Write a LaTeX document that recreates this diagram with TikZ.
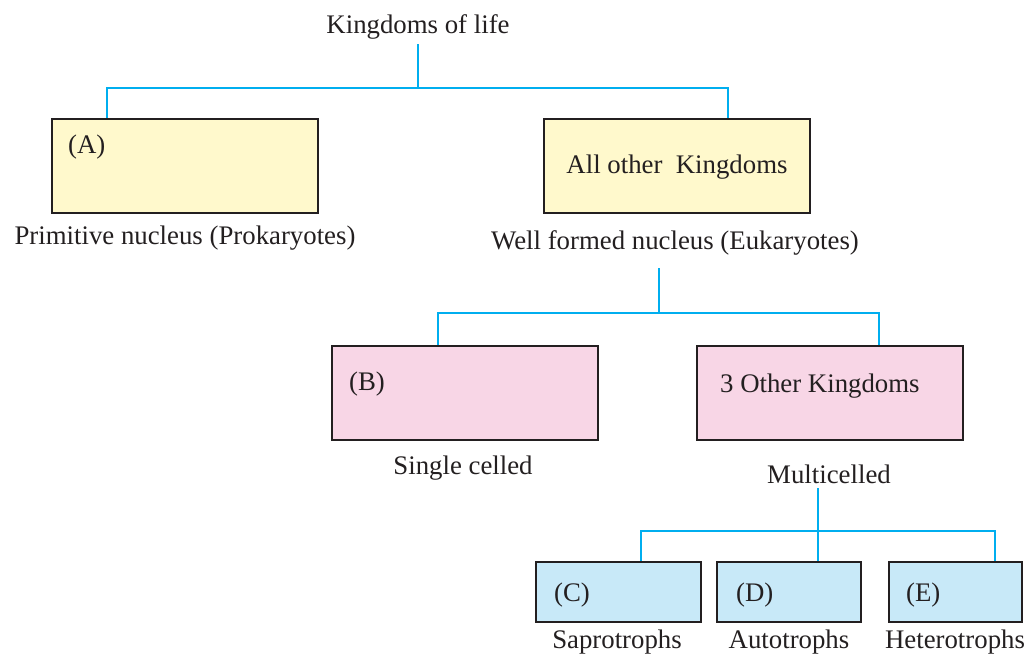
\documentclass[tikz,border=0pt]{standalone}
\usepackage{fontspec}
\setmainfont{Liberation Serif}
\usetikzlibrary{calc}
\definecolor{inkgray}{HTML}{231F20}
\definecolor{linkblue}{HTML}{00AEEF}
\definecolor{boxyellow}{HTML}{FFF9CC}
\definecolor{boxpink}{HTML}{F8D6E6}
\definecolor{boxblue}{HTML}{C8E9F8}
\tikzset{
	kbox/.style={draw=inkgray, line width=1.25pt, inner sep=0pt},
	link/.style={draw=linkblue, line width=1pt},
	ktext/.style={text=inkgray, font=\fontsize{13.4}{16}\selectfont},
	kin/.style={ktext, anchor=west, inner sep=0pt},
}

\begin{document}
\begin{tikzpicture}[x=0.5pt,y=-0.5pt]
		%%%%% START %%%%%
		\useasboundingbox (0,0) rectangle (1036,655);
		
		\node[ktext] (title) at (418,27) {Kingdoms of life};
		
		% first level
		\node[kbox, fill=boxyellow, minimum width=133pt, minimum height=47pt] (A) at (185,166) {};
		\node[kbox, fill=boxyellow, minimum width=133pt, minimum height=47pt] (other) at (677,166) {};
		\node[kin] (Atxt) at ($(A.north west)+(17,29)$) {(A)};
		\node[ktext] (othertxt) at (677,167) {All other\ \ Kingdoms};
		\node[ktext] (prok) at (185,238) {Primitive nucleus (Prokaryotes)};
		\node[ktext] (euk) at (675,243) {Well formed nucleus (Eukaryotes)};
		
		% second level
		\node[kbox, fill=boxpink, minimum width=133pt, minimum height=47pt] (B) at (465,393) {};
		\node[kbox, fill=boxpink, minimum width=133pt, minimum height=47pt] (multi) at (830,393) {};
		\node[kin] (Btxt) at ($(B.north west)+(18,39)$) {(B)};
		\node[kin] (multitxt) at ($(multi.north west)+(24,41)$) {3 Other Kingdoms};
		\node[ktext] (single) at (463,468) {Single celled};
		\node[ktext] (multilab) at (829,474) {Multicelled};
		
		% third level
		\node[kbox, fill=boxblue, minimum width=82.5pt, minimum height=30pt] (C) at (618.5,592) {};
		\node[kbox, fill=boxblue, minimum width=72pt, minimum height=30pt] (D) at (789,592) {};
		\node[kbox, fill=boxblue, minimum width=66.5pt, minimum height=30pt] (E) at (955.5,592) {};
		\node[kin] (Ctxt) at ($(C.north west)+(19,34)$) {(C)};
		\node[kin] (Dtxt) at ($(D.north west)+(20,34)$) {(D)};
		\node[kin] (Etxt) at ($(E.north west)+(18,34)$) {(E)};
		\node[ktext] (sapro) at (617,642) {Saprotrophs};
		\node[ktext] (auto) at (789,642) {Autotrophs};
		\node[ktext] (hetero) at (955,642) {Heterotrophs};
		
		% connectors
		\coordinate (j1) at (418,88);
		\coordinate (t1) at (418,44);
		\coordinate (cA) at ($(A.north west)+(56,0)$);
		\coordinate (cO) at ($(other.north west)+(185,0)$);
		\draw[link] (t1) -- (j1);
		\draw[link] (cA) |- (j1) -| (cO);
		
		\coordinate (j2) at (659,313);
		\coordinate (t2) at (659,268);
		\coordinate (cB) at ($(B.north west)+(107,0)$);
		\coordinate (cM) at ($(multi.north west)+(183,0)$);
		\draw[link] (t2) -- (j2);
		\draw[link] (cB) |- (j2) -| (cM);
		
		\coordinate (j3) at (818,531);
		\coordinate (t3) at (818,488);
		\coordinate (cC) at ($(C.north west)+(106,0)$);
		\coordinate (cE) at ($(E.north west)+(107,0)$);
		\draw[link] (t3) -- (t3 |- D.north);
		\draw[link] (cC) |- (j3) -| (cE);
		
		%%%%% END %%%%%
\end{tikzpicture}
\end{document}
